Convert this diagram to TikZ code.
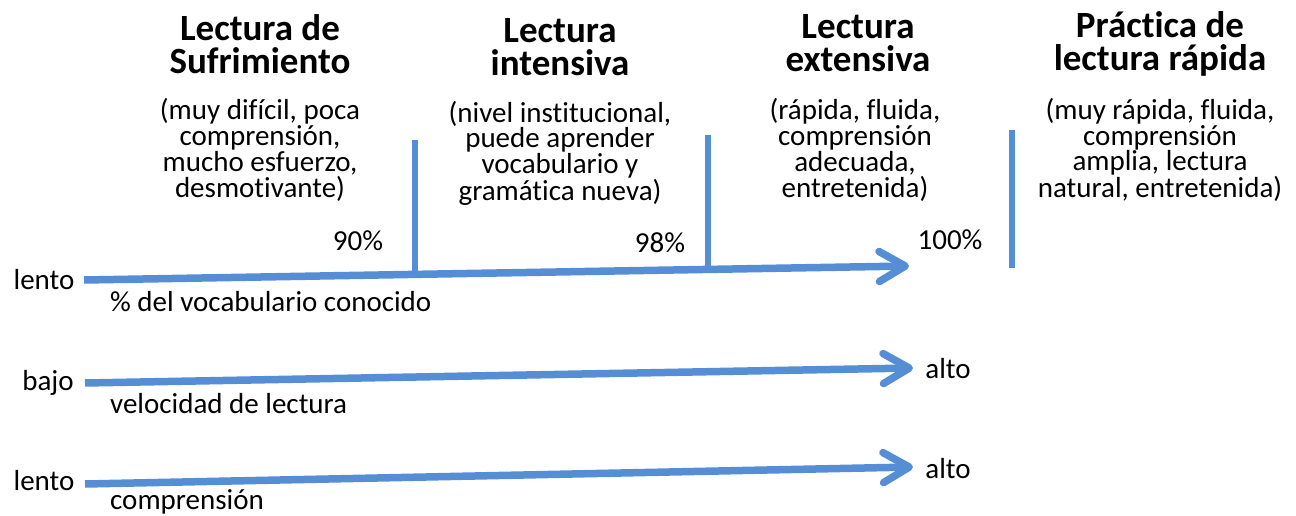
\documentclass[tikz,border=0pt]{standalone}
\usepackage{fontspec}
\setmainfont[Ligatures=NoCommon]{Carlito}
\usetikzlibrary{arrows.meta}
\definecolor{axisblue}{RGB}{85,142,213}
\begin{document}
\begin{tikzpicture}[x=1pt,y=-1pt,
  title/.style={font=\fontsize{37}{33}\selectfont\bfseries, align=center, inner sep=0pt},
  desc/.style={font=\fontsize{29}{24}\selectfont, align=center, inner sep=0pt},
  lbl/.style={font=\fontsize{29}{30}\selectfont, inner sep=0pt},
  axis/.style={draw=axisblue, line width=7.5pt, -{Straight Barb[length=26pt,width=30pt,round]}},
  sep/.style={draw=axisblue, line width=6pt}]
\useasboundingbox (0,0) rectangle (1296,516);
% titles
\node[title] (t1) at (260,44) {Lectura de\\Sufrimiento};
\node[title] (t2) at (560,47) {Lectura\\intensiva};
\node[title] (t3) at (858,43) {Lectura\\extensiva};
\node[title] (t4) at (1160,44) {Práctica de\\lectura rápida};
% descriptions
\node[desc] (d1) at (260,150) {(muy difícil, poca\\comprensión,\\mucho esfuerzo,\\desmotivante)};
\node[desc] (d2) at (560,153) {(nivel institucional,\\puede aprender\\vocabulario y\\gramática nueva)};
\node[desc] (d3) at (855,150) {(rápida, fluida,\\comprensión\\adecuada,\\entretenida)};
\node[desc] (d4) at (1160,150) {(muy rápida, fluida,\\comprensión\\amplia, lectura\\natural, entretenida)};
% percentages
\node[lbl] (p90) at (358,241) {90\%};
\node[lbl] (p98) at (660,243) {98\%};
\node[lbl] (p100) at (950,240) {100\%};
% separators
\coordinate (s1a) at (415,140); \coordinate (s1b) at (415,278);
\coordinate (s2a) at (708,135); \coordinate (s2b) at (708,272);
\coordinate (s3a) at (1012,130); \coordinate (s3b) at (1012,268);
\draw[sep] (s1a) -- (s1b);
\draw[sep] (s2a) -- (s2b);
\draw[sep] (s3a) -- (s3b);
% axis 1
\node[lbl] (l1) at (44,280) {lento};
\coordinate (a1s) at (84,280);
\coordinate (a1e) at (909,266);
\draw[axis] (a1s) -- (a1e);
\node[lbl, anchor=west] (c1) at (110,302) {\% del vocabulario conocido};
% axis 2
\node[lbl] (l2) at (48,383) {bajo};
\coordinate (a2s) at (85,383);
\coordinate (a2e) at (913,368);
\draw[axis] (a2s) -- (a2e);
\node[lbl] (h2) at (948,369) {alto};
\node[lbl, anchor=west] (c2) at (110,404) {velocidad de lectura};
% axis 3
\node[lbl] (l3) at (44,481) {lento};
\coordinate (a3s) at (85,484);
\coordinate (a3e) at (913,467);
\draw[axis] (a3s) -- (a3e);
\node[lbl] (h3) at (948,469) {alto};
\node[lbl, anchor=west] (c3) at (110,502) {comprensión};
\end{tikzpicture}
\end{document}
